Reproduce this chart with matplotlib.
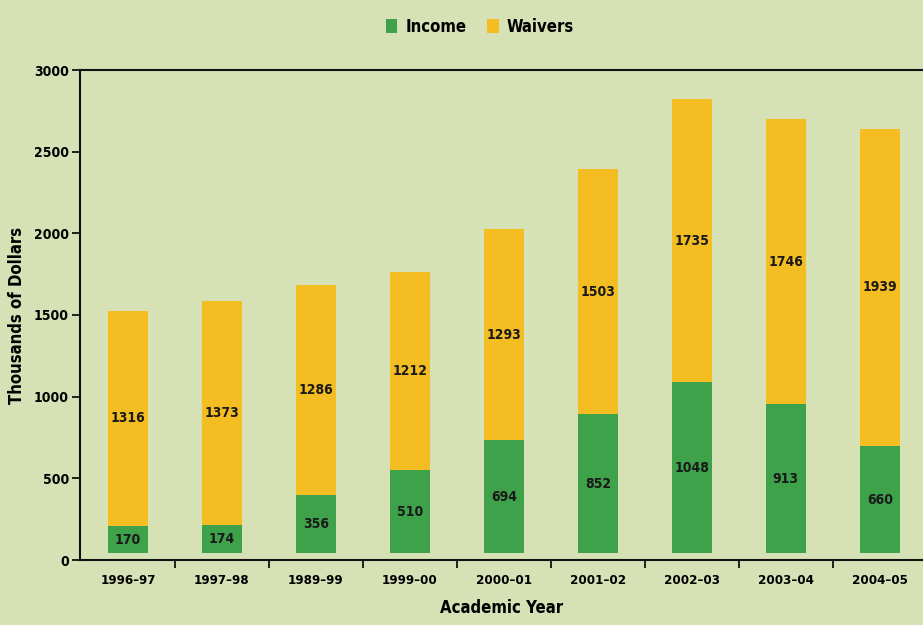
import matplotlib
matplotlib.use("Agg")
import matplotlib.pyplot as plt
import numpy as np

years = ["1996\u201397", "1997\u201398", "1989\u201399", "1999\u201300", "2000\u201301",
         "2001\u201302", "2002\u201303", "2003\u201304", "2004\u201305"]
income = [170, 174, 356, 510, 694, 852, 1048, 913, 660]
waivers = [1316, 1373, 1286, 1212, 1293, 1503, 1735, 1746, 1939]
base = 40

plt.rcParams['font.family'] = ['DejaVu Sans']
plt.rcParams['font.stretch'] = 'condensed'

bg = '#d6e1b6'
green = '#3da24a'
yellow = '#f4be22'

fig = plt.figure(figsize=(9.23, 6.25), dpi=100, facecolor=bg)
ax = fig.add_axes([0.0867, 0.104, 0.9133, 0.784])
ax.set_facecolor(bg)

x = np.arange(len(years))
w = 0.43
b1 = ax.bar(x, income, w, bottom=base, color=green, label='Income', zorder=3)
b2 = ax.bar(x, waivers, w, bottom=[base + i for i in income], color=yellow,
            label='Waivers', zorder=3)

for xi, inc, wv in zip(x, income, waivers):
    ax.text(xi, base + inc / 2, str(inc), ha='center', va='center',
            fontsize=10, color='#1a1a1a', zorder=4, fontweight='bold')
    ax.text(xi, base + inc + wv / 2, str(wv), ha='center', va='center',
            fontsize=10, color='#1a1a1a', zorder=4, fontweight='bold')

ax.set_xlim(-0.51, 8.46)
ax.set_ylim(0, 3000)
ax.set_yticks(np.arange(0, 3001, 500))
ax.set_xticks(x)
ax.set_xticklabels(years, fontsize=9.5, fontweight='bold')
ax.set_xticks(np.arange(0.5, 8.5, 1), minor=True)
ax.tick_params(axis='x', which='major', length=0, pad=10)
ax.tick_params(axis='x', which='minor', length=6, width=1.2, direction='out')
ax.tick_params(axis='y', length=6, width=1.2, labelsize=10, pad=2)
for t in ax.get_yticklabels():
    t.set_fontweight('bold')

for s in ['left', 'bottom', 'top']:
    ax.spines[s].set_linewidth(1.5)
    ax.spines[s].set_color('#111111')
ax.spines['right'].set_visible(False)

ax.set_ylabel('Thousands of Dollars', fontsize=12, labelpad=6, fontweight='bold')
ax.set_xlabel('Academic Year', fontsize=12, labelpad=9, fontweight='bold')

fig.legend(handles=[b1, b2], labels=['Income', 'Waivers'], loc='upper center',
           bbox_to_anchor=(0.52, 0.995), ncol=2, frameon=False,
           prop={'size': 12, 'weight': 'bold', 'stretch': 'condensed'},
           handlelength=0.7, handleheight=0.9, handletextpad=0.5, columnspacing=1.2)

fig.savefig('out.png', dpi=100, facecolor=bg)
